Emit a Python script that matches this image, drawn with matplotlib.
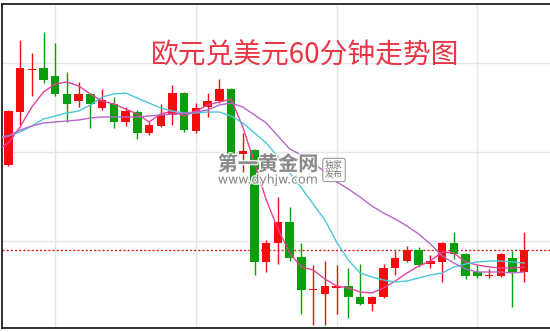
import numpy as np
import matplotlib.pyplot as plt
import matplotlib.patheffects as pe

# EUR/USD 60-min candles (first one sits just off the left edge)
opens = [1.1820, 1.1835, 1.1888, 1.1930, 1.1932, 1.1924, 1.1906, 1.1899, 1.1906, 1.1892,
         1.1896, 1.1878, 1.1888, 1.1867, 1.1874, 1.1885, 1.1907, 1.1869, 1.1893, 1.1899,
         1.1911, 1.1846, 1.1850, 1.1738, 1.1757, 1.1778, 1.1743, 1.1710, 1.1706, 1.1712,
         1.1714, 1.1703, 1.1696, 1.1703, 1.1732, 1.1739, 1.1750, 1.1736, 1.1738, 1.1757,
         1.1746, 1.1728, 1.1724, 1.1724, 1.1742, 1.1728]
highs = [1.1840, 1.1890, 1.1960, 1.1947, 1.1968, 1.1957, 1.1928, 1.1918, 1.1907, 1.1911,
         1.1903, 1.1893, 1.1890, 1.1878, 1.1896, 1.1915, 1.1908, 1.1897, 1.1907, 1.1921,
         1.1912, 1.1867, 1.1851, 1.1760, 1.1803, 1.1793, 1.1757, 1.1735, 1.1739, 1.1735,
         1.1732, 1.1736, 1.1704, 1.1736, 1.1749, 1.1754, 1.1753, 1.1745, 1.1758, 1.1768,
         1.1747, 1.1735, 1.1731, 1.1747, 1.1749, 1.1768]
lows = [1.1818, 1.1834, 1.1875, 1.1904, 1.1917, 1.1904, 1.1878, 1.1893, 1.1872, 1.1890,
        1.1872, 1.1874, 1.1861, 1.1865, 1.1873, 1.1875, 1.1868, 1.1867, 1.1883, 1.1897,
        1.1844, 1.1828, 1.1725, 1.1728, 1.1736, 1.1739, 1.1686, 1.1675, 1.1675, 1.1686,
        1.1682, 1.1695, 1.1689, 1.1702, 1.1725, 1.1738, 1.1733, 1.1732, 1.1718, 1.1741,
        1.1721, 1.1722, 1.1722, 1.1723, 1.1693, 1.1718]
closes = [1.1837, 1.1889, 1.1932, 1.1931, 1.1920, 1.1906, 1.1896, 1.1906, 1.1896, 1.1900,
          1.1878, 1.1889, 1.1867, 1.1875, 1.1885, 1.1907, 1.1870, 1.1892, 1.1899, 1.1911,
          1.1846, 1.1849, 1.1738, 1.1757, 1.1778, 1.1742, 1.1710, 1.1711, 1.1714, 1.1714,
          1.1703, 1.1696, 1.1703, 1.1732, 1.1742, 1.1750, 1.1735, 1.1739, 1.1757, 1.1746,
          1.1724, 1.1724, 1.1725, 1.1746, 1.1728, 1.1750]

# moving averages as shown on the chart
ma_fast = [1.1850, 1.1857, 1.1873, 1.1893, 1.1908, 1.1916, 1.1918, 1.1914, 1.1906, 1.1899,
           1.1896, 1.1891, 1.1886, 1.1878, 1.1886, 1.1889, 1.1884, 1.1889, 1.1895, 1.1898,
           1.1901, 1.1873, 1.1837, 1.1800, 1.1771, 1.1747, 1.1733, 1.1730, 1.1721, 1.1714,
           1.1712, 1.1708, 1.1707, 1.1712, 1.1719, 1.1727, 1.1734, 1.1739, 1.1748, 1.1747,
           1.1738, 1.1735, 1.1733, 1.1732, 1.1732, 1.1733]
ma_mid = [1.1863, 1.1864, 1.1868, 1.1874, 1.1881, 1.1884, 1.1887, 1.1889, 1.1895, 1.1903,
          1.1906, 1.1907, 1.1902, 1.1897, 1.1892, 1.1889, 1.1887, 1.1887, 1.1888, 1.1888,
          1.1884, 1.1877, 1.1867, 1.1857, 1.1843, 1.1827, 1.1812, 1.1796, 1.1780, 1.1758,
          1.1740, 1.1727, 1.1723, 1.1720, 1.1718, 1.1719, 1.1722, 1.1725, 1.1727, 1.1733,
          1.1736, 1.1738, 1.1739, 1.1739, 1.1738, 1.1737]
ma_slow = [1.1861, 1.1864, 1.1870, 1.1874, 1.1877, 1.1878, 1.1879, 1.1880, 1.1882, 1.1883,
           1.1883, 1.1883, 1.1883, 1.1884, 1.1885, 1.1886, 1.1887, 1.1888, 1.1890, 1.1895,
           1.1897, 1.1893, 1.1885, 1.1877, 1.1864, 1.1851, 1.1845, 1.1837, 1.1828, 1.1818,
           1.1811, 1.1803, 1.1794, 1.1787, 1.1781, 1.1774, 1.1766, 1.1756, 1.1744, 1.1737,
           1.1731, 1.1728, 1.1728, 1.1728, 1.1727, 1.1728]

price_line = 1.1750
title = "欧元兑美元60分钟走势图"

x = np.arange(len(opens)) - 1
o = np.array(opens)
c = np.array(closes)
up = c >= o
colors = np.where(up, '#f50d0d', '#0a9e0a')
body_low = np.minimum(o, c)
body_h = np.maximum(np.abs(c - o), 0.00012)

fig = plt.figure(figsize=(5.5, 3.32), dpi=100)
ax = fig.add_axes([2 / 550, 4 / 332, 548 / 550, 324 / 332])

ax.vlines(x, lows, highs, colors=colors, lw=1.0, zorder=2)
ax.bar(x, body_h, bottom=body_low, width=0.72, color=colors, zorder=3)

ax.plot(x, ma_fast, color='#e8409a', lw=1.0, zorder=4)
ax.plot(x, ma_mid, color='#4cc8d8', lw=1.0, zorder=4)
ax.plot(x, ma_slow, color='#b468c8', lw=1.0, zorder=4)

ax.axhline(price_line, color='#e02020', ls=(0, (1.5, 1.5)), lw=1.0, zorder=1)

ax.set_xlim(-0.54, 46.2)
ax.set_ylim(1.1672, 1.1996)
ax.set_xticks([4, 16, 28, 40])
ax.set_yticks([1.1759, 1.1848, 1.1937])
ax.tick_params(length=0, labelbottom=False, labelleft=False)
ax.grid(color='#e4e6e8', lw=1.0, zorder=0)
ax.set_axisbelow(True)
for side in ['left', 'top', 'bottom']:
    ax.spines[side].set_color('#222222')
    ax.spines[side].set_linewidth(1.3)
ax.spines['right'].set_visible(False)

fig.text(0.555, 0.834, title, color='#ea3545', fontsize=20,
         family=['Noto Sans CJK SC', 'DejaVu Sans'], ha='center', va='center')

# watermark
wm = dict(color='#7a7a7a', alpha=0.85, zorder=6,
          path_effects=[pe.withStroke(linewidth=2, foreground='white')])
fig.text(268 / 550, 1 - 164 / 332, "第一黄金网", fontsize=14.5, fontweight='bold',
         family=['Noto Sans CJK SC'], ha='center', va='center', **wm)
fig.text(268 / 550, 1 - 180 / 332, "www.dyhjw.com", fontsize=9,
         family=['DejaVu Sans'], ha='center', va='center', **wm)
fig.text(334 / 550, 1 - 170 / 332, "独家\n发布", fontsize=6.5, linespacing=1.1,
         family=['Noto Sans CJK SC'], ha='center', va='center', color='#7a7a7a',
         bbox=dict(boxstyle='round,pad=0.25', fc='white', ec='#8a8a8a', lw=0.8, alpha=0.85))

fig.savefig('out.png', dpi=100)
